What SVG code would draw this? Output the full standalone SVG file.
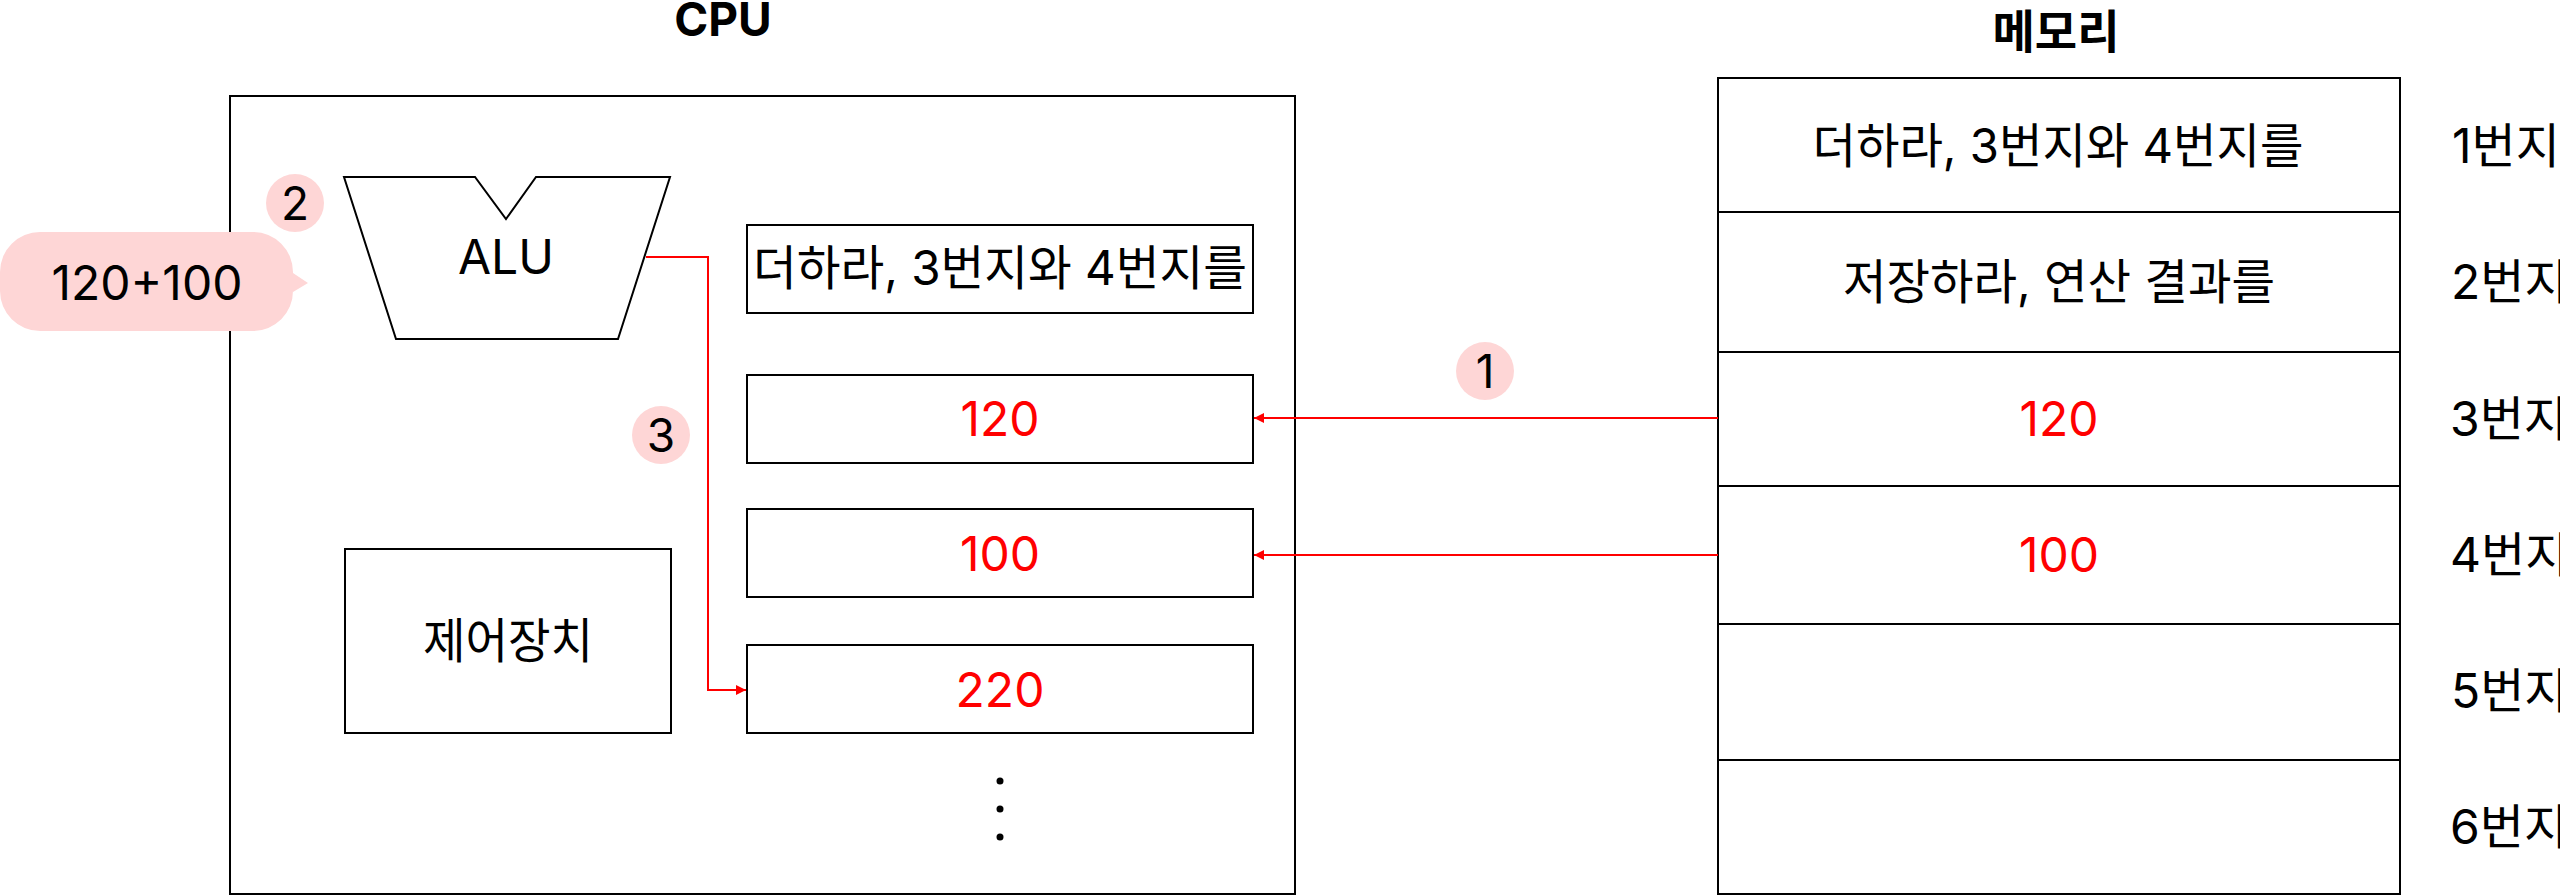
<svg xmlns="http://www.w3.org/2000/svg" width="2560" height="895" viewBox="0 0 2560 895">
<style>
text{font-family:Inter,"Noto Sans CJK KR",sans-serif;font-size:48px;fill:#000;text-anchor:middle}
.b{font-weight:bold;font-size:46px}
.r{fill:#ff0000}
.s{text-anchor:start}
.box{fill:#fff;stroke:#000;stroke-width:2}
.badge{fill:#fed6d6}
.n{font-size:46px}
.con{fill:none;stroke:#ff0000;stroke-width:2}
</style>
<defs>
<marker id="ah" markerUnits="userSpaceOnUse" markerWidth="10" markerHeight="10" refX="10" refY="5" orient="auto">
<path d="M0,0 L10,5 L0,10 z" fill="#ff0000"/>
</marker>
</defs>
<rect width="2560" height="895" fill="#fff"/>
<text class="b" x="723" y="36">CPU</text>
<text class="b" x="2056" y="48">메모리</text>
<g id="cpu"><rect class="box" x="230" y="96" width="1065" height="798"/></g>
<g id="alu">
<path class="box" d="M344,177 L475,177 L506,219 L536,177 L670,177 L618,339 L396,339 Z"/>
<text x="506" y="274">ALU</text>
</g>
<g id="control">
<rect class="box" x="345" y="549" width="326" height="184"/>
<text x="508" y="658" textLength="170" lengthAdjust="spacingAndGlyphs">제어장치</text>
</g>
<g id="reg1">
<rect class="box" x="747" y="225" width="506" height="88"/>
<text x="1000" y="285" textLength="494" lengthAdjust="spacingAndGlyphs">더하라, 3번지와 4번지를</text>
</g>
<g id="reg2">
<rect class="box" x="747" y="375" width="506" height="88"/>
<text class="r" x="1000" y="436">120</text>
</g>
<g id="reg3">
<rect class="box" x="747" y="509" width="506" height="88"/>
<text class="r" x="1000" y="571">100</text>
</g>
<g id="reg4">
<rect class="box" x="747" y="645" width="506" height="88"/>
<text class="r" x="1000" y="707">220</text>
</g>
<g id="dots">
<circle cx="1000" cy="781" r="3.5"/>
<circle cx="1000" cy="809" r="3.5"/>
<circle cx="1000" cy="837" r="3.5"/>
</g>
<g id="memory">
<rect class="box" x="1718" y="78" width="682" height="816"/>
<path d="M1718,212 H2400 M1718,352 H2400 M1718,486 H2400 M1718,624 H2400 M1718,760 H2400" stroke="#000" stroke-width="2"/>
<text x="2058" y="163" textLength="491" lengthAdjust="spacingAndGlyphs">더하라, 3번지와 4번지를</text>
<text x="2059" y="299" textLength="432" lengthAdjust="spacingAndGlyphs">저장하라, 연산 결과를</text>
<text class="r" x="2059" y="436">120</text>
<text class="r" x="2059" y="572">100</text>
</g>
<g id="addresses">
<text class="s" x="2452" y="163">1번지</text>
<text class="s" x="2451" y="299">2번지</text>
<text class="s" x="2450" y="436">3번지</text>
<text class="s" x="2450" y="572">4번지</text>
<text class="s" x="2451" y="708">5번지</text>
<text class="s" x="2450" y="844">6번지</text>
</g>
<g id="bubble">
<path class="badge" d="M40,232 H253 A40,40 0 0 1 293,272 V273 L308,283 L293,292 V291 A40,40 0 0 1 253,331 H40 A40,40 0 0 1 0,291 V272 A40,40 0 0 1 40,232 Z"/>
<text x="147" y="300">120+100</text>
</g>
<g id="step1"><circle class="badge" cx="1485" cy="371" r="29"/><text class="n" x="1485" y="388">1</text></g>
<g id="step2"><circle class="badge" cx="295" cy="203" r="29"/><text class="n" x="295" y="220">2</text></g>
<g id="step3"><circle class="badge" cx="661" cy="435" r="29"/><text class="n" x="661" y="452">3</text></g>
<g id="connectors">
<path class="con" d="M646,257 H708 V690 H746" marker-end="url(#ah)"/>
<path class="con" d="M1718,418 H1254" marker-end="url(#ah)"/>
<path class="con" d="M1718,555 H1254" marker-end="url(#ah)"/>
</g>
</svg>
